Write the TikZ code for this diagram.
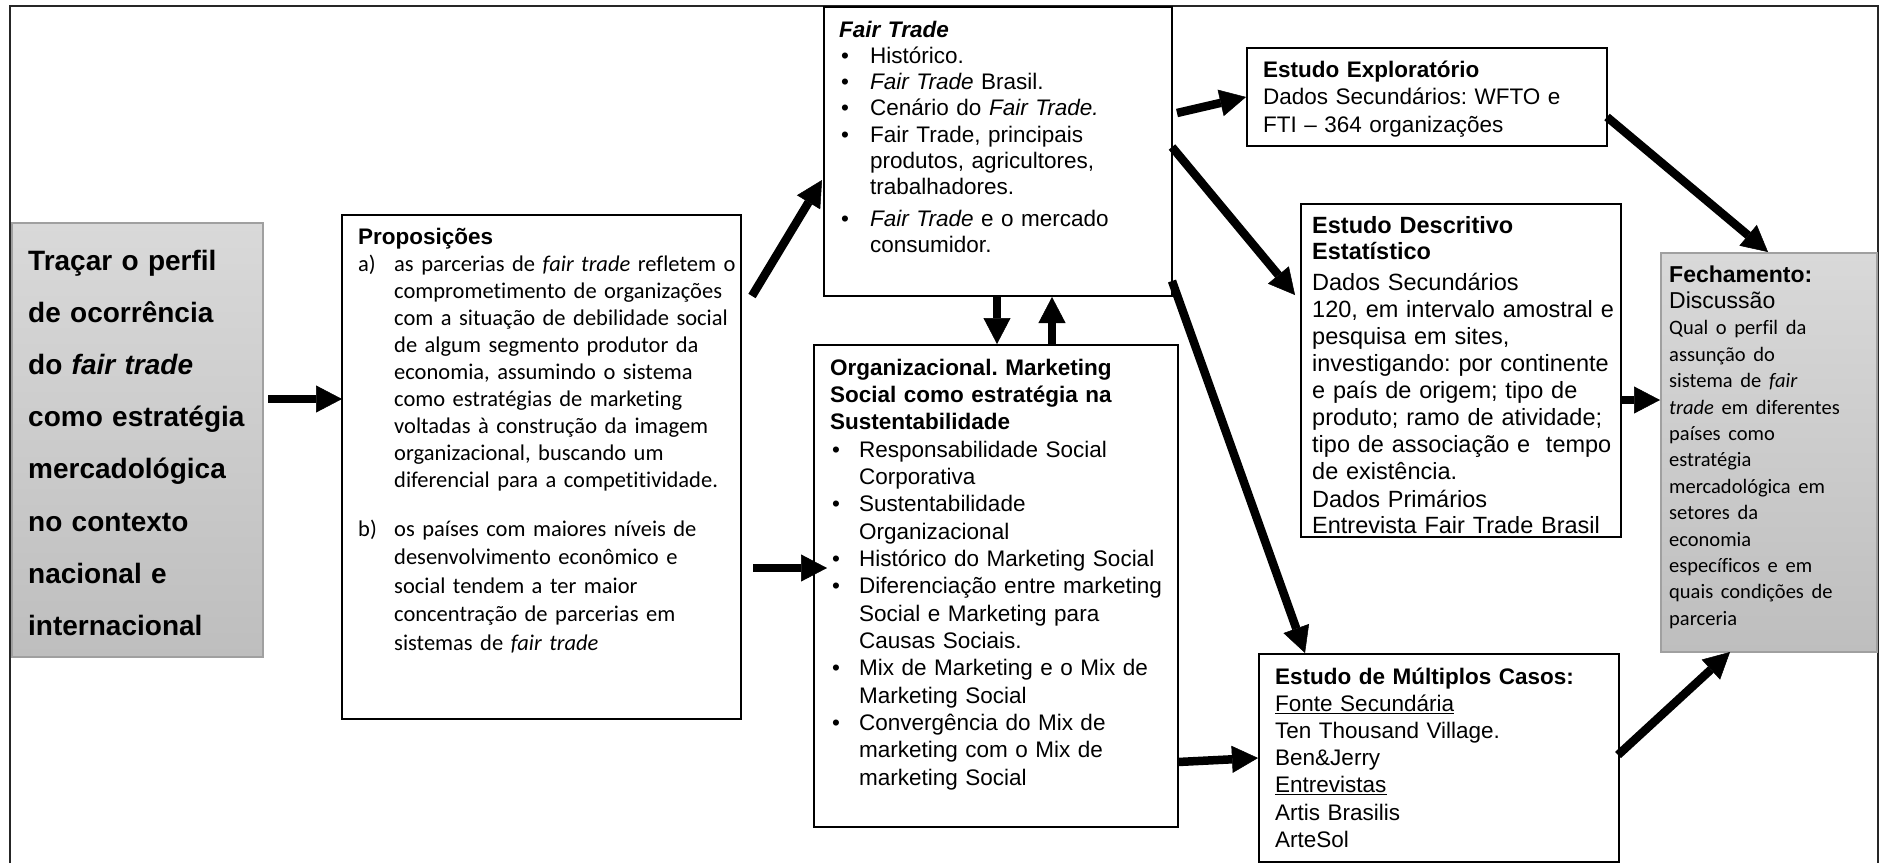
\documentclass[tikz,border=0pt]{standalone}
\usepackage{fontspec}
\setmainfont{Liberation Sans}
\newfontfamily\calfont{Carlito}[Ligatures=NoCommon]
\usetikzlibrary{arrows.meta,calc}
\frenchspacing

\definecolor{shadetop}{HTML}{D9D9D9}
\definecolor{shadebot}{HTML}{BEBEBE}
\definecolor{shadeline}{HTML}{A0A0A0}

% paragraph with a hanging label (bullet or letter)
\newcommand\hitem[2]{\par\noindent\hangindent=#1\hangafter=1\makebox[#1][l]{#2}\ignorespaces}
\newcommand\blt{\kern2pt\textbullet}

\begin{document}
\begin{tikzpicture}[x=1pt,y=-1pt,
  box/.style={draw=black,line width=1.5pt,anchor=north west,inner sep=0pt,outer sep=0pt},
  graybox/.style={draw=shadeline,line width=1.5pt,top color=shadetop,bottom color=shadebot,anchor=north west,inner sep=0pt,outer sep=0pt},
  txt/.style={anchor=base west,inner sep=0pt,text width=400pt,align=left},
  arr/.style={line width=8.5pt,-{Triangle[length=26pt,width=27pt,line width=0.5pt]}},
]
\useasboundingbox (0,0) rectangle (1883,863);
\fill[white] (0,0) rectangle (1883,863);

% outer frame
\draw[line width=1.2pt,draw=black!85] (10,863) -- (10,6) -- (1878,6) -- (1878,863);

% boxes
\node[graybox,minimum width=251pt,minimum height=434pt] (goal) at (12,223) {};
\node[box,minimum width=399pt,minimum height=504pt] (prop) at (342,215) {};
\node[box,minimum width=348pt,minimum height=289pt] (ft) at (824,7) {};
\node[box,minimum width=364pt,minimum height=482pt] (org) at (814,345) {};
\node[box,minimum width=360pt,minimum height=98pt] (expl) at (1247,48) {};
\node[box,minimum width=320pt,minimum height=333pt] (descr) at (1301,204) {};
\node[box,minimum width=360pt,minimum height=208pt] (mult) at (1259,654) {};
\node[graybox,minimum width=216pt,minimum height=399pt] (fech) at (1661,253) {};

% texts
\node[txt,font=\bfseries\fontsize{28}{52.2}\selectfont] (goaltext) at (28,270)
  {Traçar o perfil\\de ocorrência\\do \textit{fair trade}\\como estratégia\\mercadológica\\no contexto\\nacional e\\internacional};

\node[txt,font=\fontsize{22.5}{27}\selectfont] (proptext) at (358,244)
  {{\bfseries Proposições\par}
   \calfont
   \hitem{36pt}{a)}as parcerias de \textit{fair trade} refletem o\newline
     comprometimento de organizações\newline
     com a situação de debilidade social\newline
     de algum segmento produtor da\newline
     economia, assumindo o sistema\newline
     como estratégias de marketing\newline
     voltadas à construção da imagem\newline
     organizacional, buscando um\newline
     diferencial para a competitividade.\par
   \fontsize{22.5}{28.6}\selectfont
   \vspace{20.4pt}
   \hitem{36pt}{b)}os países com maiores níveis de\newline
     desenvolvimento econômico e\newline
     social tendem a ter maior\newline
     concentração de parcerias em\newline
     sistemas de \textit{fair trade}\par};

\node[txt,font=\fontsize{22.5}{26.3}\selectfont] (fttext) at (839,37)
  {{\bfseries\itshape Fair Trade\par}
   \hitem{31pt}{\blt}Histórico.\par
   \hitem{31pt}{\blt}\textit{Fair Trade} Brasil.\par
   \hitem{31pt}{\blt}Cenário do \textit{Fair Trade.}\par
   \hitem{31pt}{\blt}Fair Trade, principais\newline produtos, agricultores,\newline trabalhadores.\par
   \vspace{5.5pt}
   \hitem{31pt}{\blt}\textit{Fair Trade} e o mercado\newline consumidor.\par};

\node[txt,font=\fontsize{22.5}{27.35}\selectfont] (orgtext) at (830,375)
  {{\bfseries Organizacional. Marketing\newline Social como estratégia na\newline Sustentabilidade\par}
   \hitem{29pt}{\blt}Responsabilidade Social\newline Corporativa\par
   \hitem{29pt}{\blt}Sustentabilidade\newline Organizacional\par
   \hitem{29pt}{\blt}Histórico do Marketing Social\par
   \hitem{29pt}{\blt}Diferenciação entre marketing\newline Social e Marketing para\newline Causas Sociais.\par
   \hitem{29pt}{\blt}Mix de Marketing e o Mix de\newline Marketing Social\par
   \hitem{29pt}{\blt}Convergência do Mix de\newline marketing com o Mix de\newline marketing Social\par};

\node[txt,font=\fontsize{22.5}{27.5}\selectfont] (expltext) at (1263,77)
  {\textbf{Estudo Exploratório}\\Dados Secundários: WFTO e\\FTI – 364 organizações};

\node[txt,font=\fontsize{23.5}{26.2}\selectfont] (descrtext) at (1312,233)
  {{\bfseries Estudo Descritivo\\Estatístico\par}
   \fontsize{23.5}{27.1}\selectfont
   \vspace{3.9pt}
   Dados Secundários\\120, em intervalo amostral e\\pesquisa em sites,\\investigando: por continente\\e país de origem; tipo de\\produto; ramo de atividade;\\tipo de associação e \ tempo\\de existência.\\Dados Primários\\Entrevista Fair Trade Brasil};

\node[txt,font=\fontsize{22.5}{27.2}\selectfont] (multtext) at (1275,684)
  {\textbf{Estudo de Múltiplos Casos:}\\\underline{Fonte Secundária}\\Ten Thousand Village.\\Ben\&Jerry\\\underline{Entrevistas}\\Artis Brasilis\\ArteSol};

\node[txt,font=\fontsize{23}{26.4}\selectfont] (fechtext) at (1669,282)
  {\textbf{Fechamento:}\\Discussão\\{\calfont\fontsize{20.5}{26.4}\selectfont Qual o perfil da\\assunção do\\sistema de \textit{fair}\\\textit{trade} em diferentes\\países como\\estratégia\\mercadológica em\\setores da\\economia\\específicos e em\\quais condições de\\parceria\par}};

% connectors
\draw[arr] ($(goal.north east)+(5,176)$) -- ($(prop.north west)+(0,184)$);
\draw[arr] ($(prop.north east)+(11,81)$) -- ($(ft.north west)+(-2,173)$);
\draw[arr] ($(prop.north east)+(12,353)$) -- ($(org.north west)+(13,223)$);
\draw[arr] ($(ft.south west)+(173,1)$) -- ($(org.north west)+(183,-1)$);
\draw[arr] ($(org.north west)+(238,0)$) -- ($(ft.south west)+(228,1)$);
\draw[arr] ($(ft.north east)+(5,106)$) -- ($(expl.north west)+(-1,49)$);
\draw[arr] ($(ft.north east)+(0,140)$) -- ($(descr.north west)+(-6,91)$);
\draw[arr] ($(ft.north east)+(0,274)$) -- ($(mult.north west)+(46,-1)$);
\draw[arr] ($(org.north east)+(0,417)$) -- ($(mult.north west)+(-1,104)$);
\draw[arr] ($(expl.north east)+(0,69)$) -- ($(fech.north west)+(107,-1)$);
\draw[arr] ($(descr.north east)+(0,196)$) -- ($(fech.north west)+(-1,147)$);
\draw[arr] ($(mult.north east)+(-1,101)$) -- ($(fech.south west)+(69,0)$);
\end{tikzpicture}
\end{document}
